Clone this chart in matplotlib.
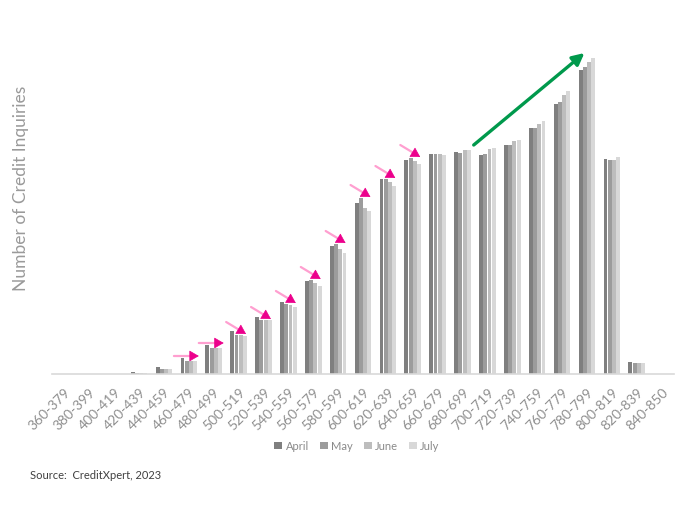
import numpy as np
import matplotlib.pyplot as plt

cats = ['360-379', '380-399', '400-419', '420-439', '440-459', '460-479', '480-499',
        '500-519', '520-539', '540-559', '560-579', '580-599', '600-619', '620-639',
        '640-659', '660-679', '680-699', '700-719', '720-739', '740-759', '760-779',
        '780-799', '800-819', '820-839', '840-850']
april = [0, 0, 0, 2, 7, 16, 29, 43, 57, 72, 93, 128, 171, 195, 214, 220, 222, 219, 229, 246, 270, 304, 215, 12, 0]
may = [0, 0, 0, 1, 5, 13, 26, 39, 54, 70, 94, 130, 176, 195, 216, 220, 221, 220, 229, 246, 272, 307, 214, 11, 0]
june = [0, 0, 0, 1, 5, 13, 26, 39, 54, 69, 91, 125, 166, 192, 213, 220, 224, 225, 233, 250, 279, 312, 214, 11, 0]
july = [0, 0, 0, 1, 5, 13, 26, 38, 54, 67, 88, 121, 163, 188, 210, 219, 224, 226, 234, 253, 283, 316, 217, 11, 0]
months = ['April', 'May', 'June', 'July']

# categories marked with pink arrows
flat_arrows = ['460-479', '480-499']
diag_arrows = ['500-519', '520-539', '540-559', '560-579', '580-599', '600-619', '620-639', '640-659']

plt.rcParams['font.family'] = ['Lato', 'DejaVu Sans']

fig = plt.figure(figsize=(7, 5.06), dpi=100)
ax = fig.add_axes([52 / 700, 131 / 506, 622 / 700, 345 / 506])

x = np.arange(len(cats))
colors = ['#7f7f7f', '#9c9c9c', '#bdbdbd', '#d8d8d8']
w = 0.17
for k, (vals, c) in enumerate(zip([april, may, june, july], colors)):
    ax.bar(x + (k - 1.5) * w, vals, width=w * 0.92, color=c, label=months[k])

ax.set_xlim(-0.5, len(cats) - 0.5)
ax.set_ylim(0, 345)
ax.set_yticks([])
ax.set_xticks(x)
ax.set_xticklabels(cats, rotation=45, ha='right', rotation_mode='anchor',
                   fontsize=10, color='#8f8f8f')
ax.tick_params(axis='x', length=0, pad=8)
for s in ['top', 'right', 'left']:
    ax.spines[s].set_visible(False)
ax.spines['bottom'].set_color('#d9d9d9')
ax.spines['bottom'].set_linewidth(1.2)

ax.set_ylabel('Number of Credit Inquiries', fontsize=12.5, color='#9a9a9a')
ax.yaxis.set_label_coords(-0.037, 0.54)


def pink_arrow(tail, tip):
    ax.annotate('', xy=tip, xytext=tail,
                arrowprops=dict(arrowstyle='-', color='#ff9fd0', lw=1.6, shrinkA=0, shrinkB=4))
    d = (np.array(tip) - np.array(tail)) * 0.3
    ax.annotate('', xy=tip, xytext=(tip[0] - d[0], tip[1] - d[1]),
                arrowprops=dict(arrowstyle='-|>,head_length=0.6,head_width=0.35',
                                color='#ec008c', lw=0.5, shrinkA=0, shrinkB=0))


for c in flat_arrows:
    i = cats.index(c)
    tip = (i + 0.4, april[i] + 2)
    pink_arrow((tip[0] - 1.0, tip[1]), tip)

for c in diag_arrows:
    i = cats.index(c)
    tip = (i + 0.3, may[i] + 1)
    pink_arrow((tip[0] - 0.8, tip[1] + 12), tip)

# green trend arrow
i0 = cats.index('700-719')
i1 = cats.index('780-799')
ax.annotate('', xy=(i1 - 0.1, july[i1] + 5), xytext=(i0 - 0.55, april[i0] + 10),
            arrowprops=dict(arrowstyle='-|>,head_length=0.7,head_width=0.35',
                            color='#00994c', lw=2.4, shrinkA=0, shrinkB=0))

fig.legend(*ax.get_legend_handles_labels(), loc='center', bbox_to_anchor=(0.51, 0.117),
           ncol=4, frameon=False, fontsize=8, labelcolor='#8a8a8a',
           handlelength=0.7, handleheight=0.7, handletextpad=0.3, columnspacing=1.0)

fig.text(30 / 700, 1 - 476 / 506, 'Source:  CreditXpert, 2023', fontsize=8,
         color='#404040', va='center')

fig.savefig('out.png', dpi=100)
